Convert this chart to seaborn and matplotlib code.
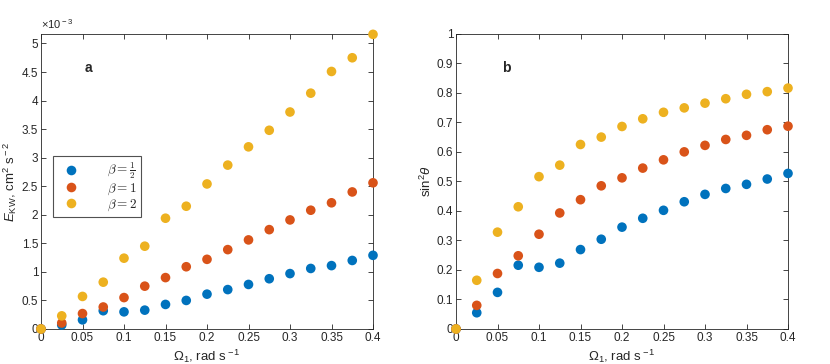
import numpy as np
import pandas as pd
import seaborn as sns
import matplotlib.pyplot as plt
from matplotlib.font_manager import FontProperties

# data
omega = [0, 0.025, 0.05, 0.075, 0.1, 0.125, 0.15, 0.175, 0.2,
         0.225, 0.25, 0.275, 0.3, 0.325, 0.35, 0.375, 0.4]
betas = ["half", "one", "two"]
beta_labels = [r"$\beta = \frac{1}{2}$", r"$\beta = 1$", r"$\beta = 2$"]

# E_KW in units of 1e-3 cm^2 s^-2
ekw_half = [0, 0.07, 0.16, 0.32, 0.30, 0.33, 0.43, 0.50, 0.61,
            0.69, 0.78, 0.88, 0.97, 1.06, 1.11, 1.20, 1.29]
ekw_one = [0, 0.105, 0.27, 0.385, 0.55, 0.75, 0.90, 1.09, 1.22,
           1.39, 1.56, 1.74, 1.91, 2.08, 2.21, 2.40, 2.56]
ekw_two = [0, 0.23, 0.57, 0.82, 1.24, 1.45, 1.94, 2.15, 2.54,
           2.87, 3.19, 3.48, 3.80, 4.13, 4.51, 4.75, 5.16]

# sin^2 theta
sin2_half = [0, 0.055, 0.124, 0.216, 0.209, 0.223, 0.269, 0.304, 0.345,
             0.375, 0.402, 0.431, 0.456, 0.476, 0.490, 0.508, 0.527]
sin2_one = [0, 0.080, 0.188, 0.248, 0.321, 0.393, 0.438, 0.485, 0.512,
            0.545, 0.573, 0.600, 0.622, 0.642, 0.656, 0.675, 0.687]
sin2_two = [0, 0.165, 0.328, 0.414, 0.516, 0.555, 0.625, 0.650, 0.686,
            0.712, 0.734, 0.749, 0.765, 0.780, 0.795, 0.804, 0.816]

colors = ["#0072BD", "#D95319", "#EDB120"]

# long format tables for seaborn
df = pd.DataFrame({
    "omega": omega * 3,
    "beta": np.repeat(betas, len(omega)),
    "ekw": np.array(ekw_half + ekw_one + ekw_two) * 1e-3,
    "sin2": sin2_half + sin2_one + sin2_two,
})

sns.set_style("ticks")
plt.rcParams["font.family"] = ["Liberation Sans", "DejaVu Sans"]
plt.rcParams["mathtext.fontset"] = "custom"
plt.rcParams["mathtext.rm"] = "Liberation Sans"
plt.rcParams["mathtext.it"] = "Liberation Sans:italic"
plt.rcParams["mathtext.bf"] = "Liberation Sans:bold"

fig = plt.figure(figsize=(8.3, 3.64), dpi=100)
ax1 = fig.add_axes([0.0494, 0.0962, 0.400, 0.811])
ax2 = fig.add_axes([0.5494, 0.0962, 0.400, 0.811])

palette = dict(zip(betas, colors))
sns.scatterplot(data=df, x="omega", y="ekw", hue="beta", palette=palette,
                s=48, edgecolor="none", ax=ax1, zorder=3, clip_on=False)
sns.scatterplot(data=df, x="omega", y="sin2", hue="beta", palette=palette,
                s=48, edgecolor="none", ax=ax2, zorder=3, clip_on=False, legend=False)

tick_color = "#262626"
for ax in (ax1, ax2):
    ax.set_xlim(0, 0.4)
    ax.set_xticks(np.arange(0, 0.401, 0.05))
    ax.set_xticklabels(["0", "0.05", "0.1", "0.15", "0.2", "0.25", "0.3", "0.35", "0.4"])
    ax.tick_params(direction="in", top=True, right=True, length=3.5, width=0.6,
                   labelsize=8.5, colors=tick_color, pad=2)
    for sp in ax.spines.values():
        sp.set_linewidth(0.6)
        sp.set_color(tick_color)
    ax.set_xlabel(r"$\Omega_1$, rad s$^{\rm -1}$", fontsize=9.5, color=tick_color, labelpad=3)

ax1.set_ylim(0, 5.17e-3)
ax1.set_yticks(np.arange(0, 5.01e-3, 0.5e-3))
ax1.set_yticklabels(["0", "0.5", "1", "1.5", "2", "2.5", "3", "3.5", "4", "4.5", "5"])
ax1.text(0, 1.01, r"$\times$10$^{\rm -3}$", transform=ax1.transAxes, fontsize=8,
         color=tick_color, va="bottom")
ax1.set_ylabel(r"$E_{\rm KW}$, cm$^{\rm 2}$ s$^{\rm -2}$", fontsize=9.5, color=tick_color, labelpad=2)
ax1.text(0.13, 0.87, "a", transform=ax1.transAxes, fontsize=10, fontweight="bold")

ax2.set_ylim(0, 1)
ax2.set_yticks(np.arange(0, 1.01, 0.1))
ax2.set_yticklabels(["0", "0.1", "0.2", "0.3", "0.4", "0.5", "0.6", "0.7", "0.8", "0.9", "1"])
ax2.set_ylabel(r"sin$^{\rm 2}\theta$", fontsize=9.5, color=tick_color, labelpad=2)
ax2.text(0.14, 0.87, "b", transform=ax2.transAxes, fontsize=10, fontweight="bold")

handles, _ = ax1.get_legend_handles_labels()
leg = ax1.legend(handles, beta_labels, loc="upper left", bbox_to_anchor=(0.035, 0.585),
                 frameon=True, fancybox=False, handletextpad=1.6, handlelength=2.2,
                 labelspacing=0.05, borderpad=0.3, borderaxespad=0,
                 prop=FontProperties(size=9.5, math_fontfamily="cm"))
leg.get_frame().set_edgecolor("#262626")
leg.get_frame().set_linewidth(0.8)

fig.savefig("out.png", dpi=100)
